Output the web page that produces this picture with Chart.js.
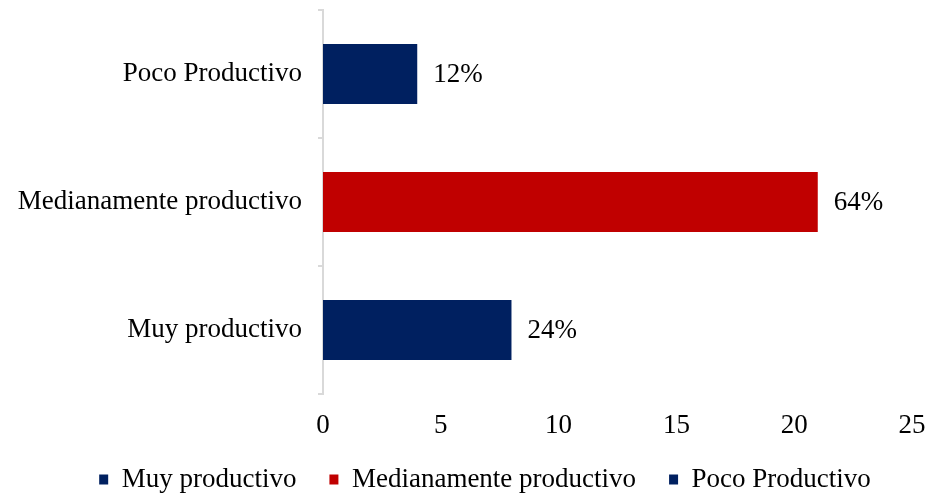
<!DOCTYPE html>
<html>
<head>
<meta charset="utf-8">
<script src="https://cdn.jsdelivr.net/npm/chart.js@4/dist/chart.umd.min.js"></script>
<style>
  html, body { margin: 0; padding: 0; background: #fff; }
  #wrap { width: 930px; height: 496px; }
</style>
</head>
<body>
<div id="wrap"><canvas id="productChart"></canvas></div>
<script>
// values (counts), top to bottom
const categories = ["Poco Productivo", "Medianamente productivo", "Muy productivo"];
const counts = [4, 21, 8];
const percentLabels = ["12%", "64%", "24%"];
const barColors = ["#002060", "#C00000", "#002060"];
const xTicks = [0, 5, 10, 15, 20, 25];

// legend order as in the original
const legendNames = ["Muy productivo", "Medianamente productivo", "Poco Productivo"];
const legendColors = ["#002060", "#C00000", "#002060"];

const serif = "'Liberation Serif', 'Times New Roman', serif";
const fontSize = 27;

// draws the percentage next to each bar
const barLabels = {
  id: "barLabels",
  afterLayout(chart) {
    // legend sits a bit right of centre and closer to the axis in the original
    if (chart.legend) {
      chart.legend.left += 29;
      chart.legend.right += 29;
      chart.legend.top -= 9;
      chart.legend.bottom -= 9;
    }
  },
  afterDatasetsDraw(chart) {
    const ctx = chart.ctx;
    const meta = chart.getDatasetMeta(0);
    ctx.save();
    ctx.font = fontSize + "px " + serif;
    ctx.fillStyle = "#000";
    ctx.textBaseline = "middle";
    ctx.textAlign = "left";
    meta.data.forEach((bar, i) => {
      ctx.fillText(percentLabels[i], bar.x + 16, bar.y + 1);
    });
    ctx.restore();
  },
};

new Chart(document.getElementById("productChart").getContext("2d"), {
  type: "bar",
  data: {
    labels: categories,
    datasets: [
      {
        data: counts,
        backgroundColor: barColors,
        categoryPercentage: 1,
        barPercentage: 0.47,
      },
    ],
  },
  options: {
    indexAxis: "y",
    responsive: true,
    maintainAspectRatio: false,
    animation: false,
    layout: { padding: { left: 0, right: 18, top: 10, bottom: -16 } },
    plugins: {
      tooltip: { enabled: false },
      legend: {
        position: "bottom",
        labels: {
          font: { family: serif, size: fontSize },
          color: "#000",
          boxWidth: 9,
          boxHeight: 10,
          padding: 33,
          generateLabels: function () {
            return legendNames.map((name, i) => ({
              text: name,
              fillStyle: legendColors[i],
              strokeStyle: legendColors[i],
              lineWidth: 0,
              datasetIndex: 0,
              index: i,
            }));
          },
        },
        onClick: function () {},
      },
    },
    scales: {
      x: {
        min: 0,
        max: 25,
        afterBuildTicks: function (scale) {
          scale.ticks = xTicks.map((v) => ({ value: v }));
        },
        afterFit: function (scale) {
          scale.paddingLeft = 0;
          scale.paddingRight = 0;
          scale.height = 48;
        },
        grid: { display: false, drawTicks: false },
        border: { display: false },
        ticks: {
          font: { family: serif, size: fontSize },
          color: "#000",
          padding: 16,
          maxRotation: 0,
        },
      },
      y: {
        afterFit: function (scale) {
          scale.width = 323;
          scale.paddingTop = 0;
          scale.paddingBottom = 0;
        },
        grid: {
          drawOnChartArea: false,
          drawTicks: true,
          tickLength: 5,
          color: "#d9d9d9",
          lineWidth: 2,
        },
        border: { color: "#d9d9d9", width: 2 },
        ticks: {
          font: { family: serif, size: fontSize },
          color: "#000",
          padding: 16,
        },
      },
    },
  },
  plugins: [barLabels],
});
</script>
</body>
</html>
